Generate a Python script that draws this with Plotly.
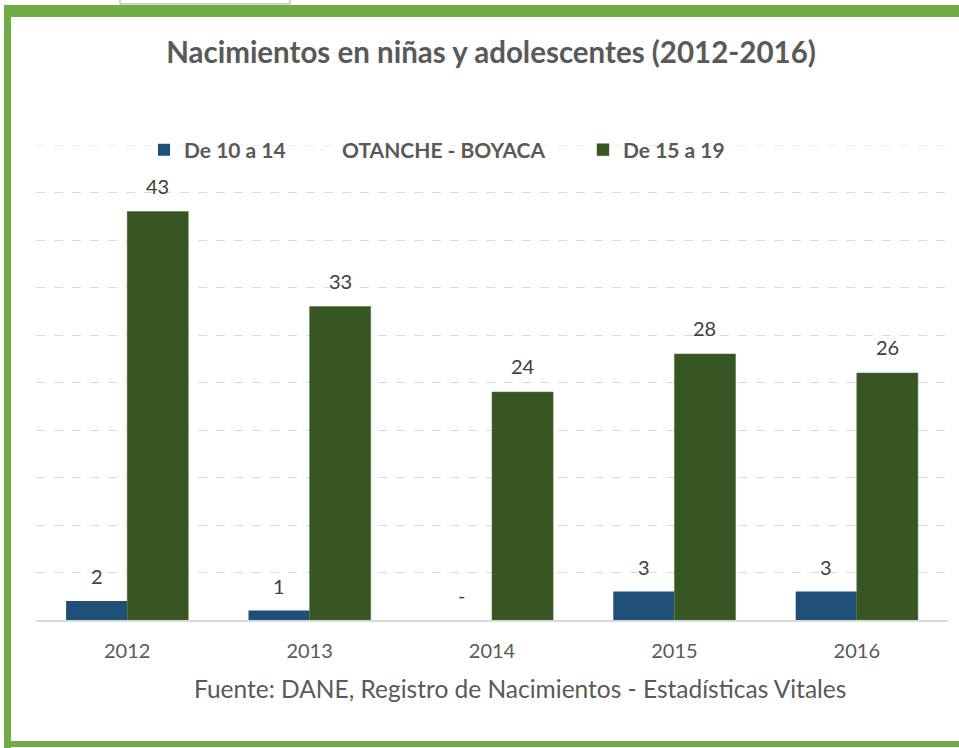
import plotly.graph_objects as go

years = ["2012", "2013", "2014", "2015", "2016"]
de_10_14 = [2, 1, 0, 3, 3]
de_15_19 = [43, 33, 24, 28, 26]
label_10_14 = ["2", "1", "-", "3", "3"]
label_15_19 = ["43", "33", "24", "28", "26"]

W, H = 959, 748
ML, MR, MT, MB = 36, 11, 145, 128
PW = W - ML - MR
PH = H - MT - MB

def px_x(p):
    return (p - ML) / PW

def px_y(p):
    return (H - MB - p) / PH

FONT = "Lato"
TXT = "#595959"
BLUE = "#1F4E79"
GREEN = "#375623"
BORDER = "#70AD47"
GRID = "#D9D9D9"

fig = go.Figure()
fig.add_trace(go.Bar(x=years, y=de_10_14, name="De 10 a 14", legend="legend",
                     marker=dict(color=BLUE, line=dict(width=0))))
fig.add_trace(go.Scatter(x=years, y=[None]*len(years), name="OTANCHE - BOYACA", legend="legend2",
                         mode="markers", marker=dict(opacity=0, size=1)))
fig.add_trace(go.Bar(x=years, y=de_15_19, name="De 15 a 19", legend="legend3",
                     marker=dict(color=GREEN, line=dict(color="#4A7030", width=0.5))))

annotations = []
for i, yr in enumerate(years):
    annotations.append(dict(x=i, y=de_10_14[i], text=label_10_14[i], xref="x", yref="y",
                            xshift=-30.5, yshift=11, yanchor="bottom", showarrow=False,
                            font=dict(family=FONT, size=20, color="#404040")))
    annotations.append(dict(x=i, y=de_15_19[i], text=label_15_19[i], xref="x", yref="y",
                            xshift=30.5, yshift=12, yanchor="bottom", showarrow=False,
                            font=dict(family=FONT, size=20, color="#404040")))

annotations.append(dict(x=px_x(520), y=px_y(688), xref="paper", yref="paper",
                        text="Fuente: DANE, Registro de Nacimientos - Estadísticas Vitales",
                        showarrow=False, xanchor="center", yanchor="middle",
                        font=dict(family=FONT, size=24.5, color=TXT)))

shapes = [
    dict(type="line", xref="paper", yref="y", x0=0, x1=1, y0=50, y1=50,
         line=dict(color=GRID, width=1, dash="dash"), layer="below"),
    dict(type="rect", xref="paper", yref="paper", x0=px_x(4), x1=px_x(959), y0=px_y(17), y1=px_y(5),
         fillcolor=BORDER, line=dict(width=0), layer="above"),
    dict(type="rect", xref="paper", yref="paper", x0=px_x(4), x1=px_x(11), y0=px_y(748), y1=px_y(5),
         fillcolor=BORDER, line=dict(width=0), layer="above"),
    dict(type="rect", xref="paper", yref="paper", x0=px_x(4), x1=px_x(959), y0=px_y(747), y1=px_y(741),
         fillcolor=BORDER, line=dict(width=0), layer="above"),
    dict(type="rect", xref="paper", yref="paper", x0=px_x(120), x1=px_x(290), y0=px_y(4), y1=px_y(-5),
         fillcolor="rgba(0,0,0,0)", line=dict(color="#A6A6A6", width=1), layer="above"),
]

leg_font = dict(family=FONT, size=21, color=TXT, weight="bold")
def leg(xpx):
    return dict(orientation="h", x=px_x(xpx), y=px_y(150), xanchor="left", yanchor="middle",
                bgcolor="rgba(0,0,0,0)", font=leg_font)

fig.update_layout(
    width=W, height=H,
    margin=dict(l=ML, r=MR, t=MT, b=MB),
    paper_bgcolor="white", plot_bgcolor="white",
    barmode="group", bargap=0.33, bargroupgap=0,
    title=dict(text="<b>Nacimientos en niñas y adolescentes (2012-2016)</b>",
               x=491 / W, y=1 - 53 / H, xanchor="center", yanchor="middle",
               font=dict(family=FONT, size=29.5, color=TXT)),
    legend=leg(144),
    legend2=leg(302),
    legend3=leg(583),
    showlegend=True,
    xaxis=dict(type="category", range=[-0.5, 4.5], showgrid=False, showline=True,
               linecolor=GRID, linewidth=1.5,
               ticks="", tickfont=dict(family=FONT, size=20, color=TXT), ticklabelstandoff=12),
    yaxis=dict(range=[0, 50], dtick=5, showticklabels=False, showgrid=True,
               gridcolor=GRID, griddash="dash", gridwidth=1, zeroline=False, showline=False),
    annotations=annotations,
    shapes=shapes,
)

fig.write_html("out.html", config={"displayModeBar": False},
               post_script="document.body.style.margin='0';document.body.style.overflow='hidden';")
